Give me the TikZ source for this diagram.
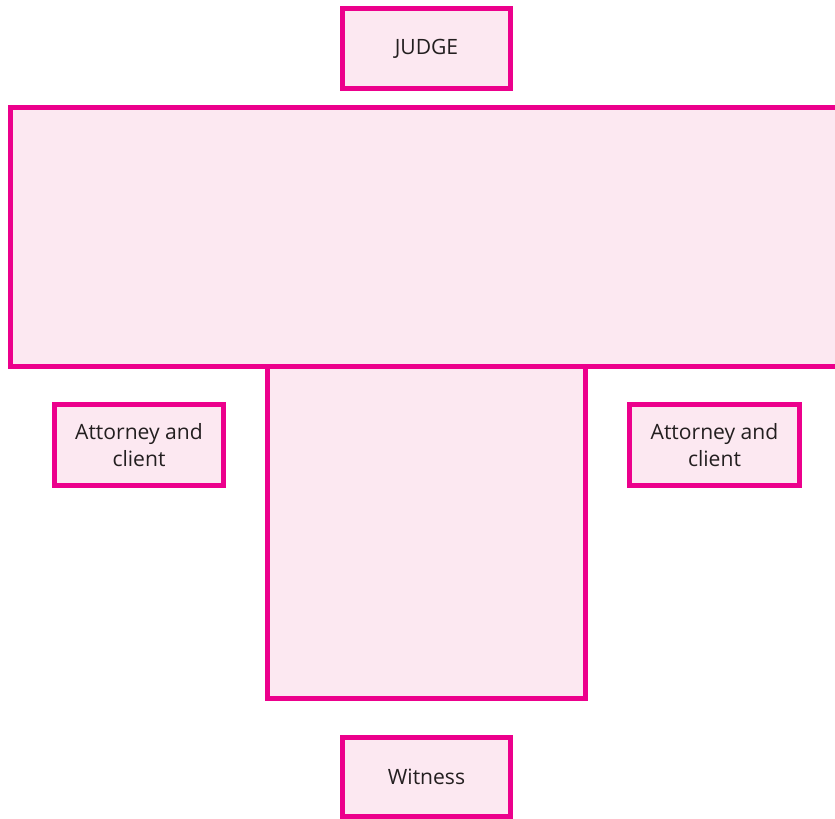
\documentclass[tikz,border=0pt]{standalone}
\usepackage{fontspec}
\setmainfont{Open Sans}
\usetikzlibrary{positioning}
\definecolor{courtpink}{HTML}{EC008C}
\definecolor{courtfill}{HTML}{FCE8F1}
\definecolor{courttext}{HTML}{231F20}
\tikzset{
  seatbox/.style={draw=courtpink, line width=0.05cm, fill=courtfill, inner sep=0pt, align=center, text=courttext, font=\fontsize{6}{7.7}\selectfont},
  tablebox/.style={draw=courtpink, line width=0.05cm, fill=courtfill, inner sep=0pt}
}

\begin{document}
\begin{tikzpicture}[x=0.01cm, y=-0.01cm]
  \useasboundingbox (0,0) rectangle (835,819);
  \clip (0,0) rectangle (835,819);
  \node[seatbox, minimum width=1.67cm, minimum height=0.79cm] (judge) at (426.5,48.5) {JUDGE};
  \node[tablebox, minimum width=3.17cm, minimum height=3.32cm] (lower) at (426.5,532.5) {};
  \node[tablebox, minimum width=8.5cm, minimum height=2.59cm] (bench) at (435.5,237) {};
  \node[seatbox, minimum width=1.69cm, minimum height=0.81cm] (leftatt) at (139,445) {Attorney and\\client};
  \node[seatbox, minimum width=1.70cm, minimum height=0.81cm] (rightatt) at (714.5,445) {Attorney and\\client};
  \node[seatbox, minimum width=1.68cm, minimum height=0.79cm] (witness) at (426.5,777) {Witness};
\end{tikzpicture}
\end{document}
